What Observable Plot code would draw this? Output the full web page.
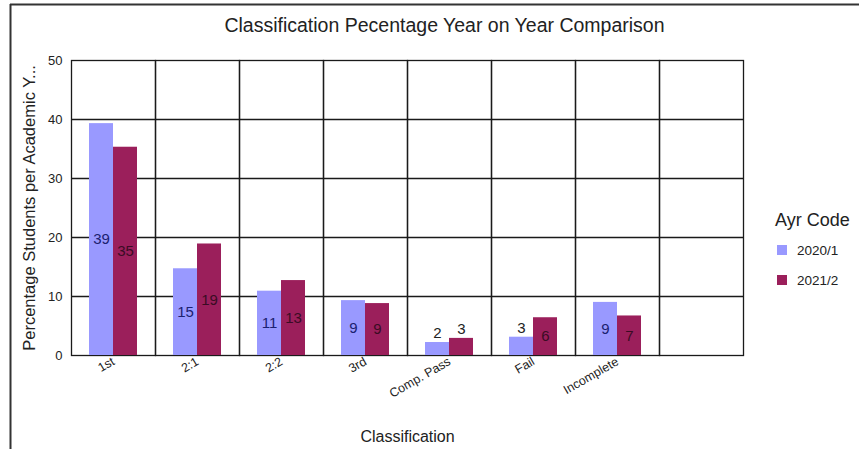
<!DOCTYPE html>
<html><head><meta charset="utf-8">
<script src="https://cdn.jsdelivr.net/npm/d3@7"></script>
<script src="https://cdn.jsdelivr.net/npm/@observablehq/plot@0.6"></script>
<style>
body{margin:0;background:#fff;}
#chart{position:relative;width:859px;height:449px;}
g[aria-label="y-axis label"] text{font-size:16.5px;}
g[aria-label="fx-axis label"] text{font-size:16px;}
</style></head><body><div id="chart"></div>
<script>
// Data
const categories = ["1st", "2:1", "2:2", "3rd", "Comp. Pass", "Fail", "Incomplete", ""];
const series = ["2020/1", "2021/2"];
const values2020 = [39.3, 14.7, 10.9, 9.3, 2.2, 3.1, 9.0, null];
const values2021 = [35.3, 18.9, 12.7, 8.8, 2.9, 6.4, 6.7, null];
const yTicks = [0, 10, 20, 30, 40, 50];
const colors = ["#9999FF", "#9B1F5B"];
const labelColors = ["#1c2170", "#3a0c24"];
const title = "Classification Pecentage Year on Year Comparison";
const xLabel = "Classification";
const yLabel = "Percentage Students per Academic Y...";
const legendTitle = "Ayr Code";

const data = [];
categories.forEach((c, i) => {
  data.push({category: c, series: series[0], value: values2020[i]});
  data.push({category: c, series: series[1], value: values2021[i]});
});
const valued = data.filter(d => d.value != null);
const font = "'Liberation Sans', Arial, sans-serif";

const inside = s => valued.filter(d => d.series === s && d.value >= 4);
const above = valued.filter(d => d.value < 4);

const chart = Plot.plot({
  width: 859, height: 449,
  marginTop: 60, marginRight: 115, marginBottom: 94, marginLeft: 70,
  style: {fontFamily: font, fontSize: "12px", color: "#222", background: "transparent"},
  fx: {domain: categories, padding: 0, label: xLabel},
  x: {domain: series, paddingInner: 0, paddingOuter: 0.685, axis: null},
  y: {domain: [0, 50], label: yLabel},
  color: {domain: series, range: colors},
  marks: [
    Plot.gridY([10, 20, 30, 40], {stroke: "#1a1a1a", strokeOpacity: 1, strokeWidth: 1.3}),
    Plot.frame({stroke: "#1a1a1a", strokeWidth: 1.3}),
    Plot.barY(data, {fx: "category", x: "series", y: "value", fill: "series"}),
    ...series.map((s, i) => Plot.text(inside(s), {
      fx: "category", x: "series", y: d => d.value / 2,
      text: d => String(Math.round(d.value)), fill: labelColors[i], fontSize: 15
    })),
    Plot.text(above, {
      fx: "category", x: "series", y: "value", dy: -9,
      text: d => String(Math.round(d.value)), fill: "#222", fontSize: 15
    }),
    Plot.axisY(yTicks, {tickSize: 0, tickPadding: 9, fontSize: 13, label: yLabel,
      labelAnchor: "center", labelArrow: "none", labelOffset: 48}),
    Plot.axisFx({anchor: "bottom", tickSize: 0, tickPadding: 5, tickRotate: -30, fontSize: 12.5,
      label: xLabel, labelAnchor: "center", labelOffset: 86})
  ]
});

const svg = d3.select(chart);
// outer border
svg.append("line").attr("x1", 10.5).attr("x2", 10.5).attr("y1", 4).attr("y2", 449)
  .attr("stroke", "#333").attr("stroke-width", 2);
svg.append("line").attr("x1", 10).attr("x2", 859).attr("y1", 4.5).attr("y2", 4.5)
  .attr("stroke", "#333").attr("stroke-width", 2);
// title
svg.append("text").attr("x", 444.5).attr("y", 32).attr("text-anchor", "middle")
  .attr("font-family", font).attr("font-size", 19.5).attr("fill", "#222").text(title);
// legend
const lg = svg.append("g").attr("font-family", font).attr("text-anchor", "start");
lg.append("text").attr("x", 775).attr("y", 226).attr("font-size", 18).attr("fill", "#222").text(legendTitle);
series.forEach((s, i) => {
  const cy = 250 + i * 30;
  lg.append("rect").attr("x", 777).attr("y", cy - 5).attr("width", 10).attr("height", 10).attr("fill", colors[i]);
  lg.append("text").attr("x", 797).attr("y", cy).attr("dy", "0.35em").attr("font-size", 13.5)
    .attr("fill", "#222").text(s);
});

document.getElementById("chart").appendChild(chart);
</script></body></html>
